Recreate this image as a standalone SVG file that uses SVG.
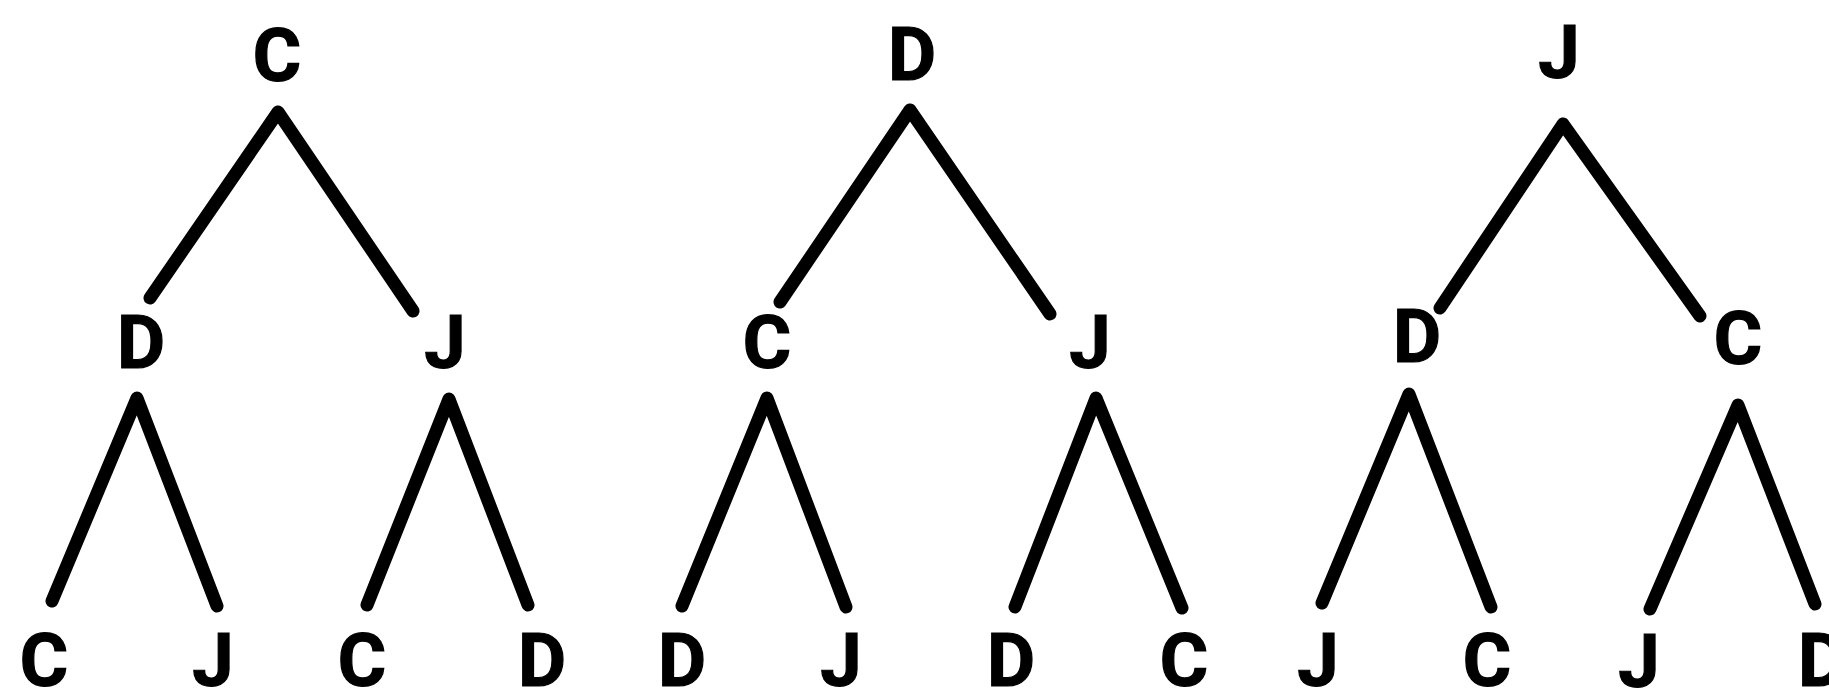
<svg xmlns="http://www.w3.org/2000/svg" width="1829" height="688" viewBox="0 0 1829 688">
<defs>
<style>
.edge{fill:none;stroke:#000;stroke-width:13;stroke-linecap:round;stroke-linejoin:round}
</style>
</defs>
<rect width="1829" height="688" fill="#fff"/>
<g id="connectors">
<path class="edge" d="M150,298 L278,112 L413,311"/>
<path class="edge" d="M52,601 L137,398 L217,606"/>
<path class="edge" d="M367,605 L449,399 L528,605"/>
<path class="edge" d="M780,302 L910,110 L1050,314"/>
<path class="edge" d="M682,606 L767,398 L846,607"/>
<path class="edge" d="M1015,607 L1096,398 L1182,608"/>
<path class="edge" d="M1440,308 L1563,124 L1700,316"/>
<path class="edge" d="M1322,603 L1409,394 L1491,607"/>
<path class="edge" d="M1650,609 L1738,405 L1815,604"/>
</g>
<g font-family="Roboto, 'Liberation Sans', Arial, sans-serif" font-weight="700" font-size="74" fill="#000" stroke="#000" stroke-width="1.2" text-anchor="middle">
<g id="t1-root"><text x="277" y="81">C</text></g>
<g id="t1-l"><text x="141" y="368">D</text></g>
<g id="t1-r"><text x="445" y="368">J</text></g>
<g id="t1-ll"><text x="44" y="686">C</text></g>
<g id="t1-lr"><text x="213" y="686">J</text></g>
<g id="t1-rl"><text x="362" y="686">C</text></g>
<g id="t1-rr"><text x="542" y="686">D</text></g>
<g id="t2-root"><text x="912" y="80">D</text></g>
<g id="t2-l"><text x="767" y="368">C</text></g>
<g id="t2-r"><text x="1090" y="368">J</text></g>
<g id="t2-ll"><text x="682" y="686">D</text></g>
<g id="t2-lr"><text x="841" y="686">J</text></g>
<g id="t2-rl"><text x="1011" y="686">D</text></g>
<g id="t2-rr"><text x="1184" y="686">C</text></g>
<g id="t3-root"><text x="1559" y="78">J</text></g>
<g id="t3-l"><text x="1417" y="362">D</text></g>
<g id="t3-r"><text x="1738" y="364">C</text></g>
<g id="t3-ll"><text x="1318" y="686">J</text></g>
<g id="t3-lr"><text x="1487" y="686">C</text></g>
<g id="t3-rl"><text x="1639" y="687">J</text></g>
<g id="t3-rr"><text x="1822" y="686">D</text></g>
</g>
</svg>
